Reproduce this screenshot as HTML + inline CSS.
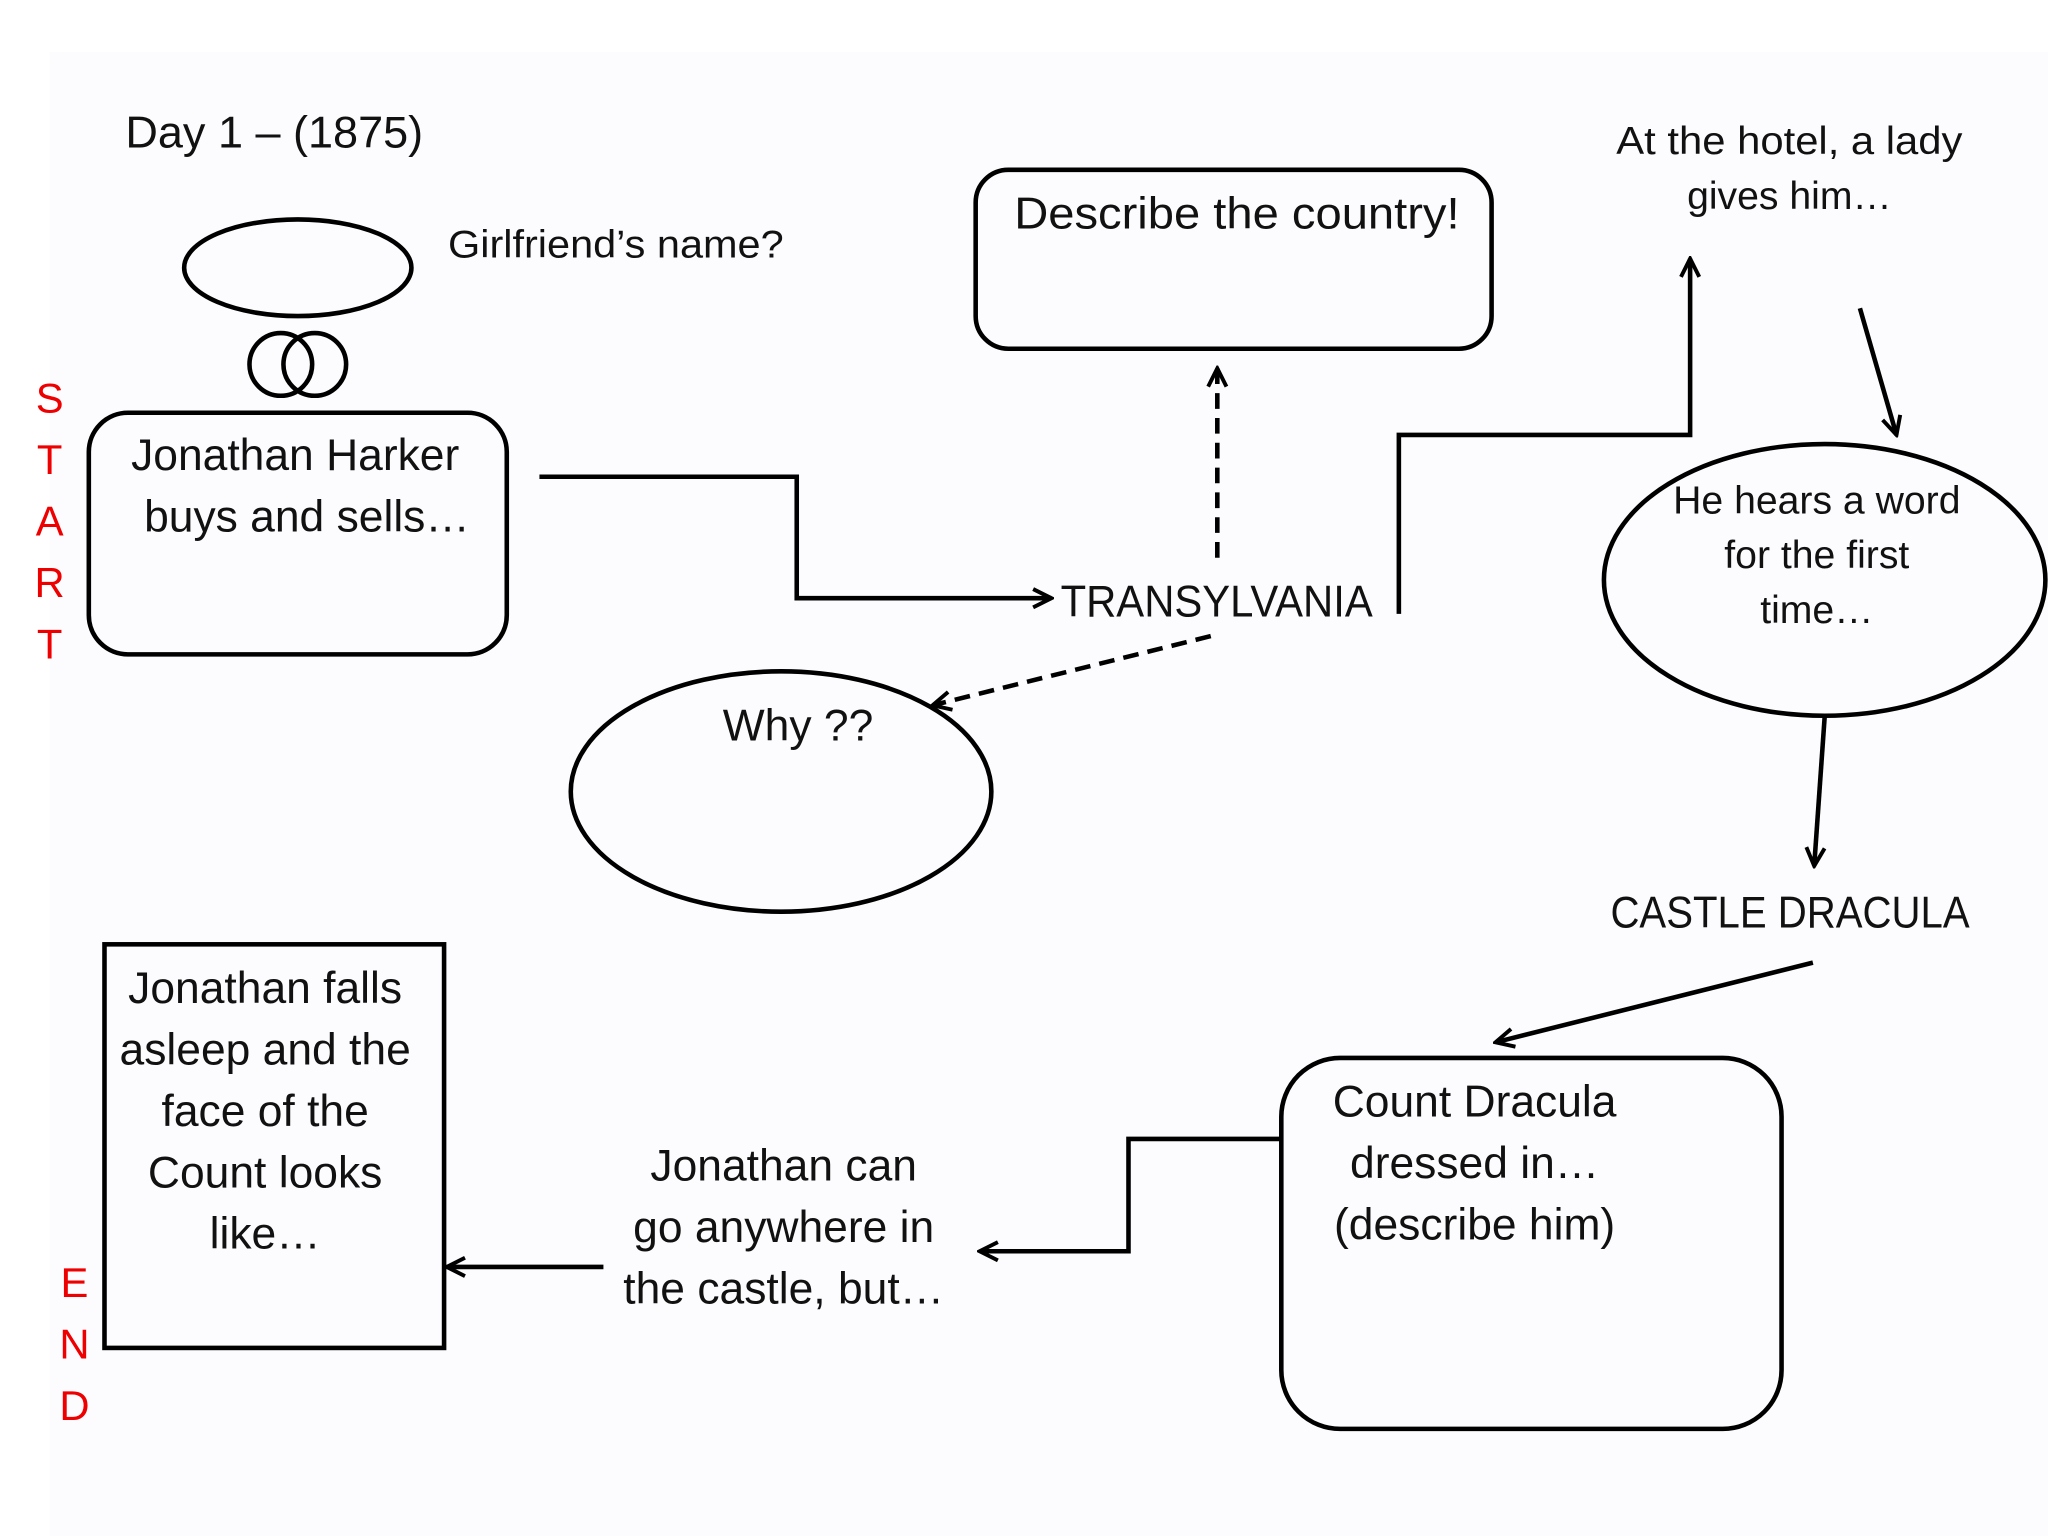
<!DOCTYPE html>
<html><head><meta charset="utf-8">
<style>
html,body{margin:0;padding:0;background:#fff;}
svg{display:block;}
text{font-family:"Liberation Sans",sans-serif;fill:#111;}
</style></head>
<body>
<svg width="2048" height="1536" viewBox="0 0 1568 1176" xmlns="http://www.w3.org/2000/svg">
<defs>
<marker id="a" viewBox="0 0 20 20" refX="18" refY="10" markerWidth="20" markerHeight="20" markerUnits="userSpaceOnUse" orient="auto">
<polyline points="4,3 18,10 4,17" fill="none" stroke="#000" stroke-width="3"/>
</marker>
</defs>
<rect x="0" y="0" width="1568" height="1176" fill="#fff"/>
<rect x="38" y="40" width="1530" height="1136" fill="#fcfcfe"/>
<g fill="none" stroke="#000" stroke-width="3.5">
<ellipse cx="228" cy="205" rx="87" ry="37"/>
<circle cx="215" cy="279" r="24"/>
<circle cx="241" cy="279" r="24"/>
<rect x="68" y="316" width="320" height="185" rx="30"/>
<polyline points="413,365 610,365 610,458 805,458" marker-end="url(#a)"/>
<line x1="932" y1="427" x2="932" y2="282" stroke-dasharray="12,7" marker-end="url(#a)"/>
<rect x="747" y="130" width="395" height="137" rx="25"/>
<line x1="927" y1="487" x2="714" y2="540" stroke-dasharray="12,7" marker-end="url(#a)"/>
<ellipse cx="598" cy="606" rx="161" ry="92"/>
<polyline points="1071,470 1071,333 1294,333 1294,198" marker-end="url(#a)"/>
<line x1="1424" y1="236" x2="1452" y2="333" marker-end="url(#a)"/>
<ellipse cx="1397" cy="444" rx="169" ry="104"/>
<line x1="1397" y1="549" x2="1389" y2="663" marker-end="url(#a)"/>
<line x1="1388" y1="737" x2="1145" y2="798" marker-end="url(#a)"/>
<rect x="981" y="810" width="383" height="284" rx="45"/>
<polyline points="981,872 864,872 864,958 750,958" marker-end="url(#a)"/>
<line x1="462" y1="970" x2="342" y2="970" marker-end="url(#a)"/>
<rect x="80" y="723" width="260" height="309"/>
</g>
<text x="96" y="113" font-size="34" textLength="228" lengthAdjust="spacingAndGlyphs">Day 1 – (1875)</text>
<text x="343" y="197" font-size="30" textLength="257" lengthAdjust="spacingAndGlyphs">Girlfriend’s name?</text>
<g font-size="32" text-anchor="middle">
<text x="38" y="316" style="fill:#e00">S</text>
<text x="38" y="363" style="fill:#e00">T</text>
<text x="38" y="410" style="fill:#e00">A</text>
<text x="38" y="457" style="fill:#e00">R</text>
<text x="38" y="504" style="fill:#e00">T</text>
<text x="57" y="993" style="fill:#e00">E</text>
<text x="57" y="1040" style="fill:#e00">N</text>
<text x="57" y="1087" style="fill:#e00">D</text>
</g>
<g font-size="34" text-anchor="middle">
<text x="226" y="360">Jonathan Harker</text>
<text x="235" y="407">buys and sells…</text>
<text x="947" y="175" textLength="341" lengthAdjust="spacingAndGlyphs">Describe the country!</text>
<text x="611" y="567">Why ??</text>
<text x="1129" y="855">Count Dracula</text>
<text x="1129" y="902">dressed in…</text>
<text x="1129" y="949">(describe him)</text>
<text x="600" y="904">Jonathan can</text>
<text x="600" y="951">go anywhere in</text>
<text x="600" y="998">the castle, but…</text>
<text x="203" y="768">Jonathan falls</text>
<text x="203" y="815">asleep and the</text>
<text x="203" y="862">face of the</text>
<text x="203" y="909">Count looks</text>
<text x="203" y="956">like…</text>
</g>
<text x="1233" y="710" font-size="34" textLength="275" lengthAdjust="spacingAndGlyphs">CASTLE DRACULA</text>
<text x="812" y="472" font-size="34" textLength="239" lengthAdjust="spacingAndGlyphs">TRANSYLVANIA</text>
<g font-size="30" text-anchor="middle">
<text x="1370" y="118" textLength="265" lengthAdjust="spacingAndGlyphs">At the hotel, a lady</text>
<text x="1370" y="160">gives him…</text>
<text x="1391" y="393">He hears a word</text>
<text x="1391" y="435">for the first</text>
<text x="1391" y="477">time…</text>
</g>
</svg>
</body></html>
